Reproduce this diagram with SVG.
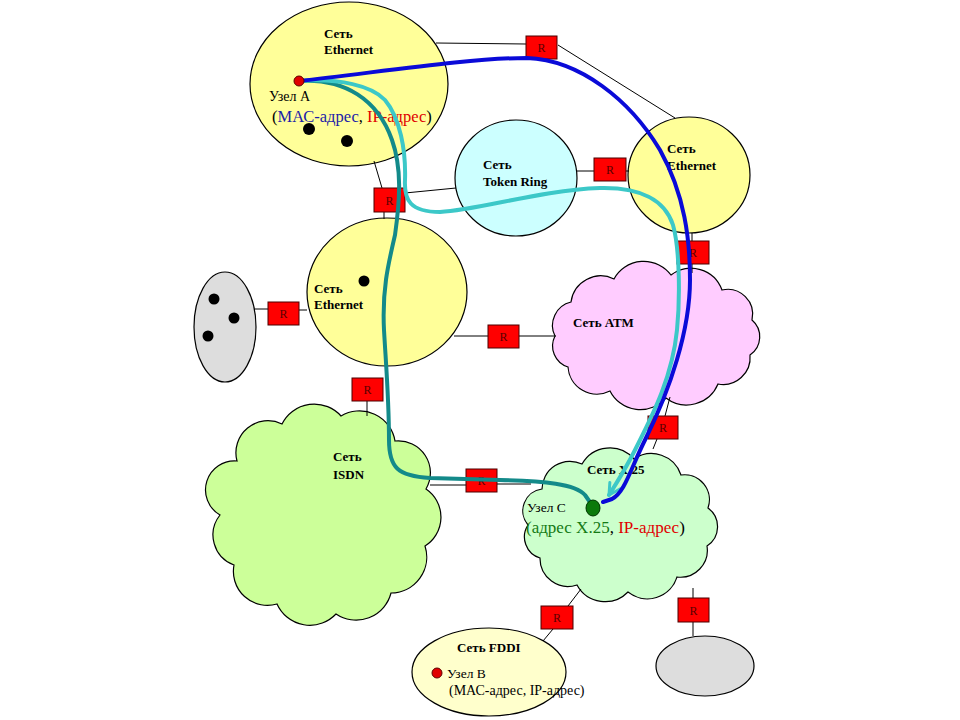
<svg xmlns="http://www.w3.org/2000/svg" width="960" height="720" viewBox="0 0 960 720">
<style>
  .net { stroke: #000; stroke-width: 1.2; }
  .eth { fill: #ffff99; }
  .lbl { font-family: "Liberation Serif", "Times New Roman", serif; font-weight: bold; font-size: 13px; fill: #000; }
  .txt { font-family: "Liberation Serif", "Times New Roman", serif; fill: #000; }
  .link { stroke: #000; stroke-width: 1; fill: none; }
  .rt rect { fill: #ff0000; stroke: #4a0000; stroke-width: 1; }
  .rt text { font-family: "Liberation Serif", "Times New Roman", serif; font-size: 12px; fill: #5a0000; text-anchor: middle; }
  .dot { fill: #000; }
  .route { fill: none; stroke-width: 4; stroke-linecap: round; stroke-linejoin: round; }
  .blue { stroke: #0a0ad8; }
  .teal { stroke: #138a8a; }
  .cyan { stroke: #3cc8c8; }
  .bl { fill: #1c1ca8; }
  .rd { fill: #e00000; }
  .gr { fill: #147a14; }
</style>
<defs>
  <marker id="vhead" markerUnits="userSpaceOnUse" markerWidth="16" markerHeight="16" refX="13" refY="8" orient="auto">
    <path d="M2,2 L13,8 L2,14" fill="none" stroke="#3cc8c8" stroke-width="3" stroke-linecap="round" stroke-linejoin="round"/>
  </marker>
</defs>
<rect width="960" height="720" fill="#fff"/>

<!-- networks -->
<g id="net-eth1">
  <ellipse class="net eth" cx="349" cy="84" rx="99" ry="82"/>
  <text class="lbl" x="324" y="38">Сеть</text>
  <text class="lbl" x="324" y="54">Ethernet</text>
  <circle class="dot" cx="309" cy="129" r="6"/>
  <circle class="dot" cx="347" cy="141" r="6"/>
  <text class="txt" x="269" y="101" font-size="14">Узел А</text>
  <text class="txt" x="272" y="122" font-size="16.5">(<tspan class="bl">МАС-адрес</tspan>, <tspan class="rd">IP-адрес</tspan>)</text>
</g>
<g id="net-tokenring">
  <ellipse class="net" fill="#ccffff" cx="516" cy="178" rx="61" ry="58"/>
  <text class="lbl" x="483" y="169">Сеть</text>
  <text class="lbl" x="483" y="186">Token Ring</text>
</g>
<g id="net-eth2">
  <ellipse class="net eth" cx="689" cy="175" rx="61" ry="58"/>
  <text class="lbl" x="667" y="153">Сеть</text>
  <text class="lbl" x="667" y="170">Ethernet</text>
</g>
<g id="net-eth3">
  <ellipse class="net eth" cx="387" cy="292" rx="80" ry="74"/>
  <circle class="dot" cx="364" cy="281" r="5.5"/>
  <text class="lbl" x="314" y="293">Сеть</text>
  <text class="lbl" x="314" y="309">Ethernet</text>
</g>
<g id="net-gray1">
  <ellipse class="net" fill="#dddddd" cx="225" cy="327" rx="31" ry="55"/>
  <circle class="dot" cx="214" cy="299" r="5.5"/>
  <circle class="dot" cx="234" cy="318" r="5.5"/>
  <circle class="dot" cx="208" cy="336" r="5.5"/>
</g>
<g id="net-atm">
  <path class="net" fill="#ffccff" d="M555,336 A24,24 0 0 1 571,302 A30,30 0 0 1 614,279 A34,34 0 0 1 671,275 A33,33 0 0 1 722,290 A25,25 0 0 1 752,320 A22,22 0 0 1 750,355 A27,27 0 0 1 718,384 A34,34 0 0 1 666,398 A34,34 0 0 1 610,391 A29,29 0 0 1 568,367 A22,22 0 0 1 555,336 Z"/>
  <text class="lbl" x="573" y="327" font-size="14">Сеть АТМ</text>
</g>
<g id="net-isdn">
  <path class="net" fill="#ccff99" d="M220,515 A29,29 0 0 1 237,461 A32,32 0 0 1 282,424 A36,36 0 0 1 341,416 A36,36 0 0 1 395,441 A32,32 0 0 1 426,489 A34,34 0 0 1 425,546 A36,36 0 0 1 391,593 A36,36 0 0 1 336,614 A36,36 0 0 1 277,604 A34,34 0 0 1 234,565 A32,32 0 0 1 220,515 Z"/>
  <text class="lbl" x="333" y="461">Сеть</text>
  <text class="lbl" x="333" y="479">ISDN</text>
</g>
<g id="net-x25">
  <path class="net" fill="#ccffcc" d="M528,525 A22,22 0 0 1 542,489 A28,28 0 0 1 582,464 A32,32 0 0 1 634,459 A31,31 0 0 1 681,475 A25,25 0 0 1 708,508 A23,23 0 0 1 707,546 A27,27 0 0 1 677,577 A31,31 0 0 1 628,592 A32,32 0 0 1 577,585 A28,28 0 0 1 540,558 A22,22 0 0 1 528,525 Z"/>
  <text class="lbl" x="587" y="474" font-size="13.5">Сеть X.25</text>
  <text class="txt" x="527" y="512" font-size="13.5">Узел С</text>
  <text class="txt" x="526" y="533" font-size="17"><tspan class="gr">(адрес X.25</tspan>, <tspan class="rd">IP-адрес</tspan>)</text>
</g>
<g id="net-fddi">
  <ellipse class="net" fill="#ffffcc" cx="489" cy="672" rx="77" ry="44"/>
  <text class="lbl" x="457" y="652" font-size="14">Сеть FDDI</text>
  <text class="txt" x="447" y="678" font-size="13.5">Узел В</text>
  <text class="txt" x="449" y="695" font-size="14">(МАС-адрес, IP-адрес)</text>
</g>
<g id="net-gray2">
  <ellipse class="net" fill="#dddddd" cx="705" cy="666" rx="49" ry="30"/>
</g>

<!-- physical links -->
<g id="links">
  <path class="link" d="M436,43 L526,44"/>
  <path class="link" d="M558,45 L675,118"/>
  <path class="link" d="M374,161 L382,188"/>
  <path class="link" d="M405,193 L456,188"/>
  <path class="link" d="M384,212 L384,219"/>
  <path class="link" d="M577,171 L594,171"/>
  <path class="link" d="M626,171 L629,171"/>
  <path class="link" d="M692,233 L692,241"/>
  <path class="link" d="M692,264 L692,273"/>
  <path class="link" d="M255,309 L268,309"/>
  <path class="link" d="M299,310 L307,310"/>
  <path class="link" d="M454,336 L488,336"/>
  <path class="link" d="M519,336 L556,336"/>
  <path class="link" d="M367,401 L367,416"/>
  <path class="link" d="M430,485 L466,485"/>
  <path class="link" d="M497,484 L531,484"/>
  <path class="link" d="M670,397 L665,416"/>
  <path class="link" d="M657,439 L653,449"/>
  <path class="link" d="M581,589 L568,606"/>
  <path class="link" d="M553,629 L543,641"/>
  <path class="link" d="M693,588 L693,598"/>
  <path class="link" d="M693,622 L693,636"/>
</g>

<!-- routers -->
<g id="r1" class="rt"><rect x="526" y="36" width="31" height="23"/><text x="541.5" y="52">R</text></g>
<g id="r2" class="rt"><rect x="594" y="158" width="32" height="23"/><text x="610" y="174">R</text></g>
<g id="r3" class="rt"><rect x="374" y="188" width="31" height="24"/><text x="389.5" y="205">R</text></g>
<g id="r4" class="rt"><rect x="268" y="302" width="31" height="23"/><text x="283.5" y="318">R</text></g>
<g id="r5" class="rt"><rect x="488" y="325" width="31" height="23"/><text x="503.5" y="341">R</text></g>
<g id="r6" class="rt"><rect x="677" y="241" width="32" height="23"/><text x="693" y="257">R</text></g>
<g id="r7" class="rt"><rect x="352" y="378" width="31" height="23"/><text x="367.5" y="394">R</text></g>
<g id="r8" class="rt"><rect x="648" y="416" width="30" height="23"/><text x="663" y="432">R</text></g>
<g id="r9" class="rt"><rect x="466" y="469" width="31" height="23"/><text x="481.5" y="485">R</text></g>
<g id="r10" class="rt"><rect x="541" y="606" width="32" height="23"/><text x="557" y="622">R</text></g>
<g id="r11" class="rt"><rect x="678" y="598" width="31" height="24"/><text x="693.5" y="615">R</text></g>

<!-- routes -->
<g id="routes">
  <path class="route teal" d="M299,81 C345,78 378,100 392,140 C402,168 400,200 395,235 C388,265 382,290 384,330 C386,365 389,400 389,440 C389,468 398,476 430,478 L500,480 C545,481 575,484 585,495 L592,505"/>
  <path class="route cyan" marker-end="url(#vhead)" d="M299,81 C340,78 372,86 385,100 C400,118 406,150 405,180 C404,200 410,212 440,212 C480,210 540,190 600,188 C640,187 665,200 673,225 C680,250 680,300 677,330 C672,380 650,420 635,450 C625,470 616,484 609,495"/>
  <path class="route blue" d="M299,81 C380,72 470,58 527,58 C580,60 630,100 660,150 C685,195 690,240 690,280 C690,330 670,390 645,440 C630,470 625,492 612,499 L603,502"/>
</g>

<!-- hosts -->
<g id="host-a"><circle cx="299" cy="81" r="5" fill="#e00000" stroke="#600000" stroke-width="1"/></g>
<g id="host-c"><ellipse cx="593" cy="508" rx="7" ry="8" fill="#0b7a0b" stroke="#003800" stroke-width="1"/></g>
<g id="host-b"><circle cx="437" cy="673" r="5" fill="#e00000" stroke="#600000" stroke-width="1"/></g>
</svg>
